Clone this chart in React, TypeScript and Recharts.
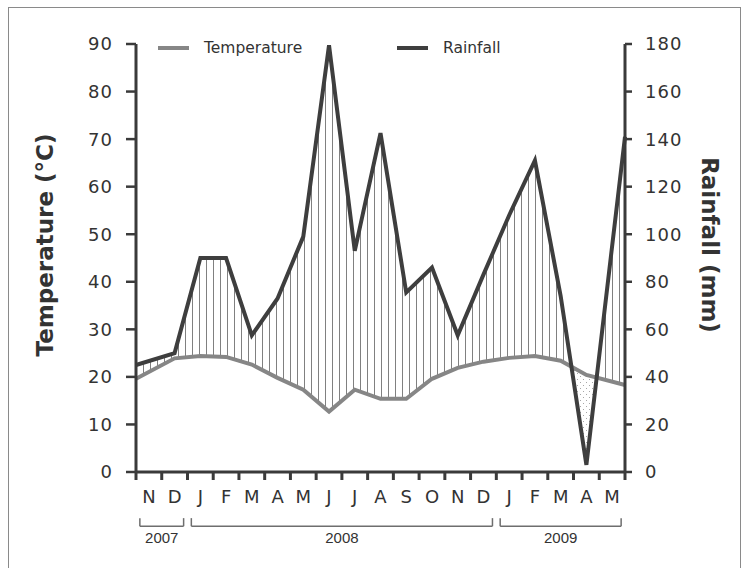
import { ComposedChart, Line, Area, XAxis, YAxis, ReferenceLine } from "recharts";

const months = ["N", "D", "J", "F", "M", "A", "M", "J", "J", "A", "S", "O", "N", "D", "J", "F", "M", "A", "M"];
const temperature = [19.6, 23.9, 24.4, 24.2, 22.6, 19.8, 17.3, 12.7, 17.3, 15.4, 15.4, 19.6, 21.9, 23.2, 24.0, 24.4, 23.4, 20.4, 18.3];
const rainfall = [45, 50, 90, 90, 57.5, 73, 99, 179.5, 93, 142.5, 75.5, 86, 57.5, 83, 108, 131, 74, 3, 141];
const tempTicks = [0, 10, 20, 30, 40, 50, 60, 70, 80, 90];
const rainTicks = [0, 20, 40, 60, 80, 100, 120, 140, 160, 180];
const years = [
  { label: "2007", first: 0, last: 1 },
  { label: "2008", first: 2, last: 13 },
  { label: "2009", first: 14, last: 18 },
];

const TEMP_COLOR = "#868686";
const RAIN_COLOR = "#3e3e3e";
const AXIS_COLOR = "#3a3a3a";
const TEXT = "#333";

const series = [
  { name: "Temperature", color: TEMP_COLOR },
  { name: "Rainfall", color: RAIN_COLOR },
];

const n = months.length;
// first and last readings sit on the frame, the others mid-month
const xOf = (i: number) => (i === 0 ? 0 : i === n - 1 ? n : i + 0.5);

const points = months.map((m, i) => ({
  x: xOf(i),
  temp: temperature[i],
  rain: rainfall[i],
  half: rainfall[i] / 2,
}));

// fill bands: hatch where rain is above temperature, dots where below
const chartData: any[] = [];
points.forEach((p, i) => {
  chartData.push({
    x: p.x,
    temp: p.temp,
    rain: p.rain,
    hatch: [p.temp, Math.max(p.temp, p.half)],
    dots: [Math.min(p.temp, p.half), p.temp],
  });
  const q = points[i + 1];
  if (q) {
    const d0 = p.half - p.temp;
    const d1 = q.half - q.temp;
    if (d0 * d1 < 0) {
      const t = d0 / (d0 - d1);
      const x = p.x + t * (q.x - p.x);
      const v = p.temp + t * (q.temp - p.temp);
      chartData.push({ x, hatch: [v, v], dots: [v, v] });
    }
  }
});

const boundaryTicks = Array.from({ length: n + 1 }, (_, i) => i);
const monthTicks = months.map((_, i) => i + 0.5);

const titleStyle = { fontFamily: "DejaVu Sans", fontWeight: "bold", fontSize: 23 };

const TempTitle = () => (
  <text
    x={45}
    y={245}
    transform="rotate(-90 45 245)"
    textAnchor="middle"
    dominantBaseline="central"
    fill={TEXT}
    style={titleStyle}
  >
    Temperature (°C)
  </text>
);

const RainTitle = () => (
  <text
    x={710}
    y={245}
    transform="rotate(90 710 245)"
    textAnchor="middle"
    dominantBaseline="central"
    fill={TEXT}
    style={titleStyle}
  >
    Rainfall (mm)
  </text>
);

const BRACKET_Y = -11.4;
const BRACKET_TOP = -9.7;

export default function App() {
  const brackets = years.flatMap((yr) => {
    const a = yr.first + 0.15;
    const b = yr.last + 0.85;
    const common = {
      xAxisId: "axis0",
      yAxisId: "temp",
      stroke: "#6e6e6e",
      strokeWidth: 1.5,
      ifOverflow: "visible" as const,
    };
    return [
      <ReferenceLine
        key={yr.label + "h"}
        {...common}
        segment={[{ x: a, y: BRACKET_Y }, { x: b, y: BRACKET_Y }]}
        label={{
          value: yr.label,
          position: "bottom",
          offset: 6,
          fill: TEXT,
          fontSize: 15,
          fontFamily: "Liberation Sans",
        }}
      />,
      <ReferenceLine key={yr.label + "a"} {...common} segment={[{ x: a, y: BRACKET_Y }, { x: a, y: BRACKET_TOP }]} />,
      <ReferenceLine key={yr.label + "b"} {...common} segment={[{ x: b, y: BRACKET_Y }, { x: b, y: BRACKET_TOP }]} />,
    ];
  });

  return (
    <div style={{ position: "absolute", left: 0, top: 0, width: 741, height: 568, background: "#fff", overflow: "hidden" }}>
      <div
        style={{
          position: "absolute",
          left: 8,
          top: 7,
          width: 733,
          height: 600,
          boxSizing: "border-box",
          border: "1px solid #8a8a8a",
        }}
      />
      <ComposedChart
        width={741}
        height={568}
        data={chartData}
        margin={{ top: 44, right: 0, bottom: 56, left: 0 }}
        style={{ position: "absolute", left: 0, top: 0, fontFamily: "DejaVu Sans" }}
      >
        <defs>
          <pattern id="hatch" patternUnits="userSpaceOnUse" width="7" height="10">
            <line x1="3.5" y1="0" x2="3.5" y2="10" stroke="#808080" strokeWidth="1" />
          </pattern>
          <pattern id="dots" patternUnits="userSpaceOnUse" width="6" height="6">
            <circle cx="1.5" cy="1.5" r="0.5" fill="#8a8a8a" />
            <circle cx="4.5" cy="4.5" r="0.5" fill="#8a8a8a" />
          </pattern>
        </defs>
        <XAxis
          xAxisId="axis0"
          type="number"
          dataKey="x"
          domain={[0, n]}
          ticks={boundaryTicks}
          interval={0}
          tickFormatter={() => ""}
          tickSize={8}
          height={10}
          axisLine={{ stroke: AXIS_COLOR, strokeWidth: 3 }}
          tickLine={{ stroke: AXIS_COLOR, strokeWidth: 3 }}
        />
        <XAxis
          xAxisId="axis1"
          type="number"
          dataKey="x"
          domain={[0, n]}
          ticks={monthTicks}
          interval={0}
          tickFormatter={(v: number) => months[Math.floor(v)]}
          axisLine={false}
          tickLine={false}
          tickSize={0}
          tickMargin={8}
          height={30}
          tick={{ fill: TEXT, fontSize: 18, fontFamily: "DejaVu Sans" }}
        />
        <YAxis
          yAxisId="temp"
          domain={[0, 90]}
          ticks={tempTicks}
          interval={0}
          width={136}
          tickSize={10}
          tickMargin={13}
          axisLine={{ stroke: AXIS_COLOR, strokeWidth: 3 }}
          tickLine={{ stroke: AXIS_COLOR, strokeWidth: 2.5 }}
          tick={{ fill: TEXT, fontSize: 18, fontFamily: "DejaVu Sans", letterSpacing: 1 }}
          label={<TempTitle />}
        />
        <YAxis
          yAxisId="rain"
          orientation="right"
          domain={[0, 180]}
          ticks={rainTicks}
          interval={0}
          width={116}
          tickSize={7}
          tickMargin={13}
          axisLine={{ stroke: AXIS_COLOR, strokeWidth: 3 }}
          tickLine={{ stroke: AXIS_COLOR, strokeWidth: 2.5 }}
          tick={{ fill: TEXT, fontSize: 18, fontFamily: "DejaVu Sans", letterSpacing: 1, textAnchor: "start" }}
          label={<RainTitle />}
        />
        <Area
          xAxisId="axis0"
          yAxisId="temp"
          type="linear"
          dataKey="hatch"
          stroke="none"
          fill="url(#hatch)"
          fillOpacity={1}
          isAnimationActive={false}
          activeDot={false}
        />
        <Area
          xAxisId="axis0"
          yAxisId="temp"
          type="linear"
          dataKey="dots"
          stroke="none"
          fill="url(#dots)"
          fillOpacity={1}
          isAnimationActive={false}
          activeDot={false}
        />
        <Line
          xAxisId="axis0"
          yAxisId="temp"
          type="linear"
          dataKey="temp"
          name="Temperature"
          stroke={TEMP_COLOR}
          strokeWidth={4}
          dot={false}
          connectNulls
          isAnimationActive={false}
        />
        <Line
          xAxisId="axis0"
          yAxisId="rain"
          type="linear"
          dataKey="rain"
          name="Rainfall"
          stroke={RAIN_COLOR}
          strokeWidth={4}
          dot={false}
          connectNulls
          isAnimationActive={false}
        />
        {brackets}
      </ComposedChart>
      <div
        style={{
          position: "absolute",
          left: 158,
          top: 38,
          display: "flex",
          fontFamily: "DejaVu Sans",
          fontSize: 15.5,
          color: TEXT,
          lineHeight: "20px",
        }}
      >
        {series.map((s) => (
          <div key={s.name} style={{ display: "flex", alignItems: "center", width: 239 }}>
            <span style={{ display: "inline-block", width: 31, height: 4, background: s.color, marginRight: 15 }} />
            <span>{s.name}</span>
          </div>
        ))}
      </div>
    </div>
  );
}
